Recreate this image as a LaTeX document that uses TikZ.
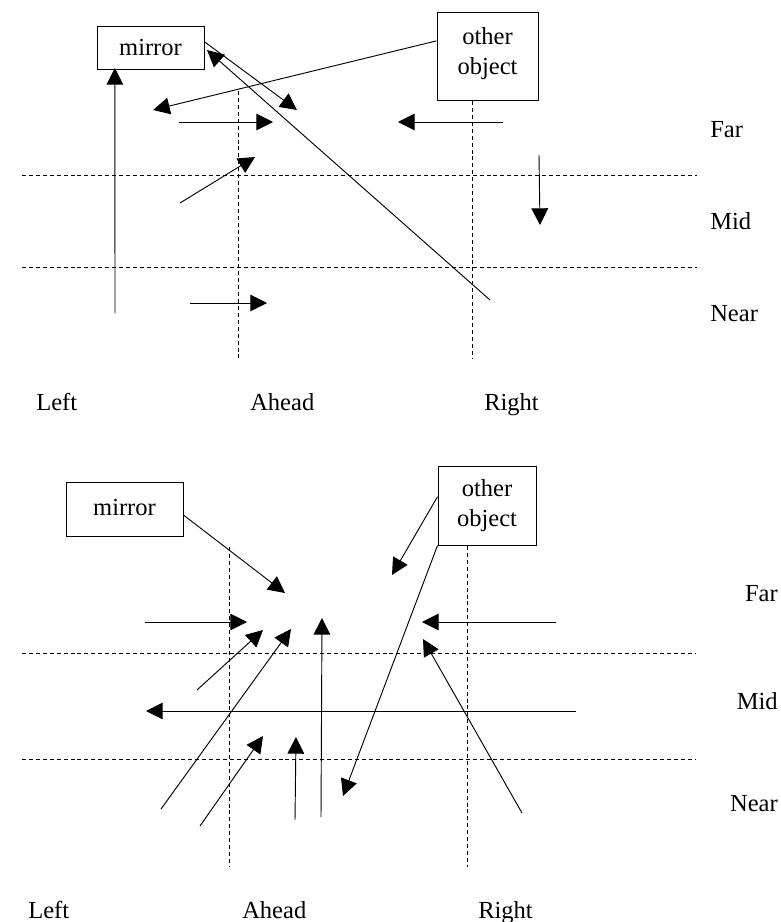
\documentclass[tikz,border=0pt]{standalone}
\usepackage{fontspec}
\setmainfont{Liberation Serif}
\usetikzlibrary{arrows.meta,calc}
\begin{document}
\begin{tikzpicture}[x=0.75pt,y=-0.75pt,
  conn/.style={line width=0.7pt,-{Triangle[length=12.5pt,width=12.5pt]}},
  guide/.style={line width=0.75pt,dash pattern=on 3pt off 2.2pt},
  objbox/.style={draw,line width=0.75pt,inner sep=0pt,align=center,
    font=\fontsize{18.4}{22.5}\selectfont},
  lbl/.style={inner sep=0pt,font=\fontsize{18.4}{22}\selectfont}]
\useasboundingbox (0,0) rectangle (781,922);

% ---------------- upper panel ----------------
% zone grid
\draw[guide] (22,175) -- (697,175);
\draw[guide] (22,267) -- (697,267);
\draw[guide] (238,91) -- (238,358);
\draw[guide] (472,101) -- (472,358);

% objects
\node[objbox,minimum width=80.25pt,minimum height=32.25pt] (mirA) at (150.5,47.5) {mirror};
\node[objbox,minimum width=75.75pt,minimum height=66pt] (othA) at (487.5,56)
  {other\\object\rule[-7.5pt]{0pt}{0pt}};

% zone labels
\node[lbl,anchor=base west] (farA)  at (710,137) {Far};
\node[lbl,anchor=base west] (midA)  at (710,229) {Mid};
\node[lbl,anchor=base west] (nearA) at (710,321) {Near};
\node[lbl,anchor=base west] (leftA)  at (36,410)  {Left};
\node[lbl,anchor=base west] (aheadA) at (250,410) {Ahead};
\node[lbl,anchor=base west] (rightA) at (484,410) {Right};

% connector ends
\coordinate (a1s) at (115,313);
\coordinate (a2e) at (153,110);
\coordinate (a3e) at (297,110);
\coordinate (a4s) at (490,300);
\coordinate (a4e) at (207,50);
\coordinate (a5s) at (179,122);  \coordinate (a5e) at (273,122);
\coordinate (a6s) at (503,122);  \coordinate (a6e) at (398,122);
\coordinate (a7s) at (180,203);  \coordinate (a7e) at (255,157);
\coordinate (a8s) at (539,155);  \coordinate (a8e) at (540,225);
\coordinate (a9s) at (190,303);  \coordinate (a9e) at (267,303);

\draw[conn] (a1s) -- ($(mirA.south west)!0.17!(mirA.south east)+(0,-1.5)$);
\draw[conn] ($(othA.north west)!0.33!(othA.south west)$) -- (a2e);
\draw[conn] ($(mirA.north east)!0.37!(mirA.south east)$) -- (a3e);
\draw[conn] (a4s) -- (a4e);
\draw[conn] (a5s) -- (a5e);
\draw[conn] (a6s) -- (a6e);
\draw[conn] (a7s) -- (a7e);
\draw[conn] (a8s) -- (a8e);
\draw[conn] (a9s) -- (a9e);

% ---------------- lower panel ----------------
% zone grid
\draw[guide] (22,653) -- (695,653);
\draw[guide] (22,759) -- (695,759);
\draw[guide] (229,547) -- (229,867);
\draw[guide] (467,546) -- (467,867);

% objects
\node[objbox,minimum width=87.75pt,minimum height=40.5pt] (mirB) at (124.5,509)
  {mirror\rule[-3pt]{0pt}{0pt}};
\node[objbox,minimum width=73.5pt,minimum height=59.25pt] (othB) at (487,505.5) {other\\object};

% zone labels
\node[lbl,anchor=base east] (farB)  at (778,601) {Far};
\node[lbl,anchor=base east] (midB)  at (778,709) {Mid};
\node[lbl,anchor=base east] (nearB) at (778,811) {Near};
\node[lbl,anchor=base west] (leftB)  at (28,918)  {Left};
\node[lbl,anchor=base west] (aheadB) at (242,918) {Ahead};
\node[lbl,anchor=base west] (rightB) at (478,918) {Right};

% connector ends
\coordinate (b1e) at (285,593);
\coordinate (b2e) at (392,575);
\coordinate (b3e) at (343,796);
\coordinate (b4s) at (145,622);  \coordinate (b4e) at (247,622);
\coordinate (b5s) at (556,622);  \coordinate (b5e) at (422,622);
\coordinate (b6s) at (197,690);  \coordinate (b6e) at (263,630);
\coordinate (b7s) at (161,809);  \coordinate (b7e) at (291,629);
\coordinate (b8s) at (321,817);  \coordinate (b8e) at (322,618);
\coordinate (b9s) at (576,711);  \coordinate (b9e) at (146,711);
\coordinate (b10s) at (522,813); \coordinate (b10e) at (423,639);
\coordinate (b11s) at (200,826); \coordinate (b11e) at (263,736);
\coordinate (b12s) at (295,820); \coordinate (b12e) at (296,737);

\draw[conn] ($(mirB.north east)!0.61!(mirB.south east)$) -- (b1e);
\draw[conn] ($(othB.north west)!0.39!(othB.south west)$) -- (b2e);
\draw[conn] (othB.south west) -- (b3e);
\draw[conn] (b4s) -- (b4e);
\draw[conn] (b5s) -- (b5e);
\draw[conn] (b6s) -- (b6e);
\draw[conn] (b7s) -- (b7e);
\draw[conn] (b8s) -- (b8e);
\draw[conn] (b9s) -- (b9e);
\draw[conn] (b10s) -- (b10e);
\draw[conn] (b11s) -- (b11e);
\draw[conn] (b12s) -- (b12e);
\end{tikzpicture}
\end{document}
